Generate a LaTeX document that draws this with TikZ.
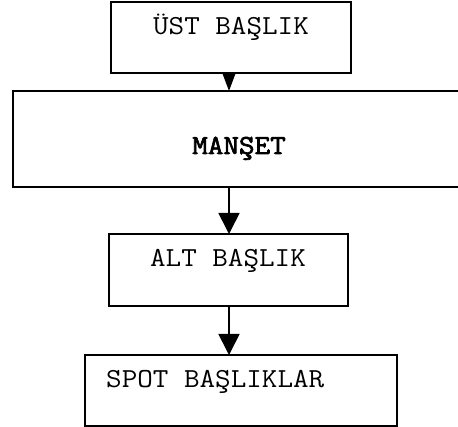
\documentclass[tikz,border=0pt]{standalone}
\usepackage{fontspec}
\setmonofont[FakeStretch=1.1]{Latin Modern Mono}
\newfontfamily\monobold[FakeStretch=1.1,FakeBold=2.5]{Latin Modern Mono}
\usetikzlibrary{arrows.meta}

\tikzset{
  box/.style={draw=black, line width=2pt, fill=white, rectangle,
              inner sep=0pt, outer sep=0pt},
  lbl/.style={inner sep=0pt, font=\fontsize{27.5}{30}\selectfont\ttfamily},
  flow/.style={line width=1.7pt, -{Triangle[length=21pt,width=21pt]}},
  flowshort/.style={line width=1.7pt, -{Triangle[length=18pt,width=13pt]}}
}

\begin{document}
\begin{tikzpicture}[x=1pt,y=-1pt]
  \useasboundingbox (0,0) rectangle (458,427);
  \fill[white] (0,0) rectangle (458,427);

  % frames of the four headline levels
  \node[box, minimum width=240pt, minimum height=71pt] (ust)    at (231,37.5) {};
  \node[box, minimum width=447pt, minimum height=96pt] (manset) at (236.5,139) {};
  \node[box, minimum width=239pt, minimum height=72pt] (alt)    at (228.5,270) {};
  \node[box, minimum width=312pt, minimum height=71pt] (spot)   at (241,390.5) {};

  % labels
  \node[lbl, anchor=base] (tust) at (231,35) {ÜST BAŞLIK};
  \node[lbl, anchor=base, font=\fontsize{27.5}{30}\selectfont\monobold] (tmanset) at (239,154) {MANŞET};
  \node[lbl, anchor=base] (talt) at (228,267) {ALT BAŞLIK};
  \node[lbl, anchor=base west] (tspot) at (106,388) {SPOT BAŞLIKLAR};

  % connectors
  \coordinate (ax) at (229,0);
  \draw[flowshort] (ust.south -| ax) -- (manset.north -| ax);
  \draw[flow] (manset.south -| ax) -- (alt.north -| ax);
  \draw[flow] (alt.south -| ax) -- (spot.north -| ax);
\end{tikzpicture}
\end{document}
